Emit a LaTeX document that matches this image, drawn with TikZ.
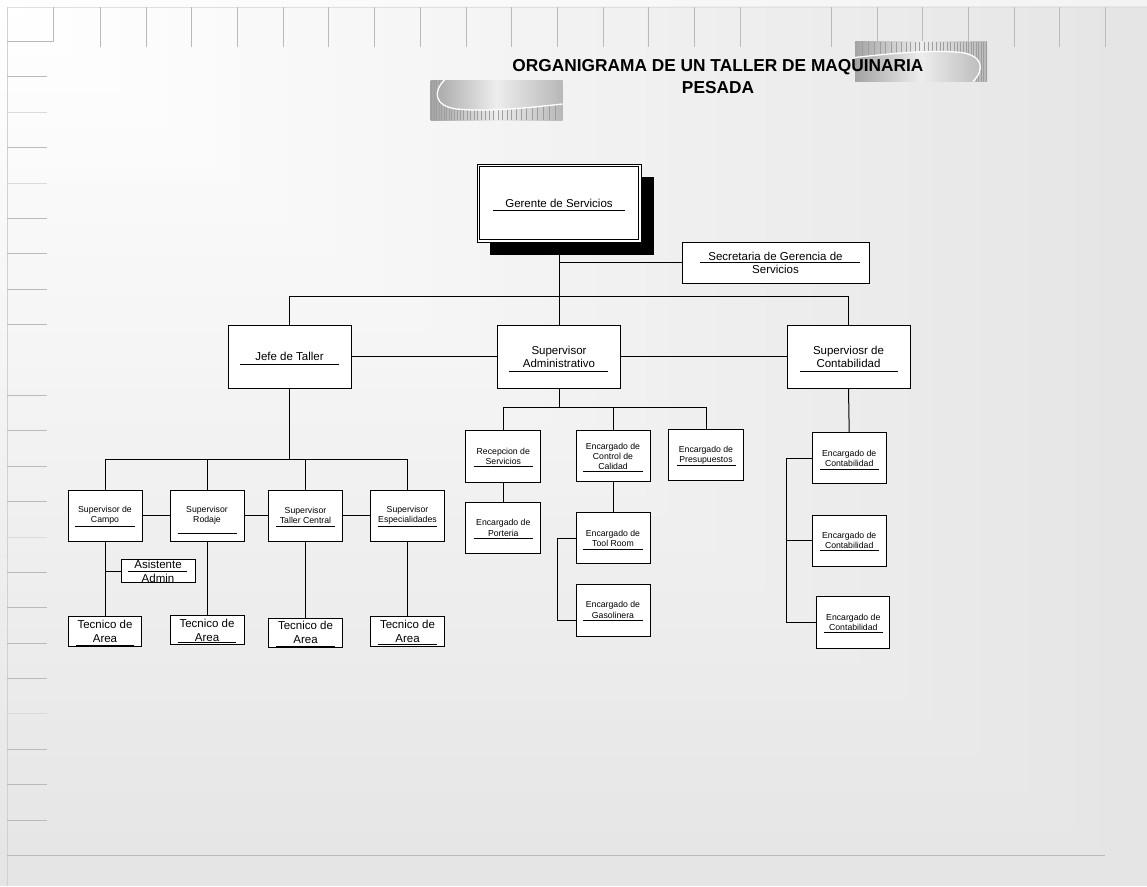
\documentclass[tikz,border=0pt]{standalone}
\usepackage{fontspec}
\setmainfont{Liberation Sans}
\usetikzlibrary{calc}
\pgfdeclarelayer{bg}
\pgfdeclarelayer{lines}
\pgfsetlayers{bg,lines,main}
\begin{document}
\begin{tikzpicture}[x=1pt,y=-1pt,
  box/.style={draw=black,fill=white,line width=1pt,inner sep=0pt,align=center},
  bigtxt/.style={font=\fontsize{11.5}{13}\selectfont},
  tectxt/.style={font=\fontsize{11.5}{14}\selectfont},
  smalltxt/.style={font=\fontsize{8.7}{10.3}\selectfont},
  conn/.style={draw=black,line width=1pt},
  ulin/.style={draw=black,line width=1pt},
  gtick/.style={draw=black!27,line width=1pt},
  ltick/.style={draw=black!14,line width=1pt},
  logo/.pic={
    \shade[left color=black!36, right color=black!28, middle color=black!7] (-66,-20) rectangle (66,20);
    \begin{scope}
      \clip (-66,20) -- (-66,-20) -- (-52,-20) .. controls (-64,-8) and (-62,6) .. (-40,9) .. controls (-10,12) and (30,8) .. (66,4) -- (66,20) -- cycle;
      \foreach \xx in {-65,-62.5,-60,-57.5,-55,-52.5,-50,-47.5,-45,-42,-39,-36,-33,-29.5,-26,-22.5,-19,-15,-11,-7,-3,1.5,6,10.5,15,20,25,30,35.5,41,47,53,59} \draw[black!38,line width=1pt] (\xx,-20) -- (\xx,20);
    \end{scope}
    \draw[white,line width=1.3pt] (-52,-20) .. controls (-64,-8) and (-62,6) .. (-40,9) .. controls (-10,12) and (30,8) .. (66,4);
  }]
\useasboundingbox (0,0) rectangle (1147,886);
% ---------- background ----------
\begin{pgfonlayer}{bg}
\foreach \i in {0,...,47}{
  \pgfmathsetmacro\vv{(229+26*\i/47)/255}
  \definecolor{bgc}{gray}{\vv}
  \pgfmathsetmacro\ff{1-\i/48}
  \fill[bgc] (0,0) rectangle ({1147*\ff},{886*\ff});
}
\fill[white,opacity=0.55] (0,0) rectangle (1147,6);
\draw[black!12,line width=1pt] (7,7) -- (1147,7);
\draw[black!18,line width=1pt] (7,7) -- (7,886);
\draw[gtick] (7,41) -- (53,41) -- (53,7);
\foreach \xx in {100,146,191,237,283,328,374,420,466,511,557,603,648,694,740,831,877,922,968,1014,1059,1105}
  \draw[gtick] (\xx,7) -- (\xx,47);
\foreach \yy in {76,147,218,253,289,324,395,430,466,501,572,607,643,678,749,784,820}
  \draw[gtick] (7,\yy) -- (47,\yy);
\foreach \yy in {112,183,537,713}
  \draw[ltick] (7,\yy) -- (47,\yy);
\draw[gtick] (7,855) -- (1105,855);
\pic at (496.5,100) {logo};
\pic[rotate=180] at (921,61.5) {logo};
\end{pgfonlayer}
% ---------- title ----------
\node[font=\bfseries\fontsize{17.3}{22}\selectfont, anchor=base, inner sep=0pt] (title1) at (718,71) {ORGANIGRAMA DE UN TALLER DE MAQUINARIA};
\node[font=\bfseries\fontsize{17.3}{22}\selectfont, anchor=base, inner sep=0pt] (title2) at (718,93) {PESADA};
% ---------- top level ----------
\fill[black] (490,177) rectangle (654,255);
\node[box,bigtxt,minimum width=164pt,minimum height=78pt] (ger) at (559,203) {Gerente de Servicios};
\draw[line width=1pt] ($(ger.north west)+(3,3)$) rectangle ($(ger.south east)+(-3,-3)$);
\node[box,bigtxt,minimum width=187pt,minimum height=41pt] (sec) at (775.5,262.5) {Secretaria de Gerencia de\\Servicios};
\coordinate (bus) at (559,296);
\node[box,bigtxt,minimum width=123pt,minimum height=63pt] (jefe) at (289.5,356.5) {Jefe de Taller};
\node[box,bigtxt,minimum width=123pt,minimum height=63pt] (adm) at (559,356.5) {Supervisor\\Administrativo};
\node[box,bigtxt,minimum width=123pt,minimum height=63pt] (con) at (848.5,356.5) {Superviosr de\\Contabilidad};
% ---------- left group ----------
\coordinate (lbus) at (289.5,459);
\node[box,smalltxt,minimum width=74pt,minimum height=51pt] (campo) at (105,515.5) {Supervisor de\\Campo};
\node[box,smalltxt,minimum width=74pt,minimum height=51pt] (rodaje) at (207,515.5) {Supervisor\\Rodaje};
\node[box,smalltxt,minimum width=74pt,minimum height=51pt] (tcentral) at (305.5,515.5) {Supervisor\\Taller Central};
\node[box,smalltxt,minimum width=74pt,minimum height=51pt] (espec) at (407.5,515.5) {Supervisor\\Especialidades};
\node[box,minimum width=74pt,minimum height=23.4pt] (asis) at (158,571) {};
\node[tectxt,align=center,inner sep=0pt] (asist) at (asis.center) {Asistente\\Admin};
\node[box,tectxt,minimum width=73.4pt,minimum height=30pt] (tec1) at (105,631.7) {Tecnico de\\Area};
\node[box,tectxt,minimum width=74pt,minimum height=28.3pt] (tec2) at (207,629.9) {Tecnico de\\Area};
\node[box,tectxt,minimum width=74.4pt,minimum height=29pt] (tec3) at (305.5,632.8) {Tecnico de\\Area};
\node[box,tectxt,minimum width=73.6pt,minimum height=29.3pt] (tec4) at (407.5,631.4) {Tecnico de\\Area};
% ---------- middle group ----------
\coordinate (mbus) at (559,407.3);
\node[box,smalltxt,minimum width=74.7pt,minimum height=51.6pt] (recep) at (503.3,456.5) {Recepcion de\\Servicios};
\node[box,smalltxt,minimum width=74pt,minimum height=51pt] (ctrl) at (613,456.2) {Encargado de\\Control de\\Calidad};
\node[box,smalltxt,minimum width=74.3pt,minimum height=51.4pt] (presup) at (706,455) {Encargado de\\Presupuestos};
\node[box,smalltxt,minimum width=74.7pt,minimum height=51pt] (port) at (503.3,527.8) {Encargado de\\Porteria};
\node[box,smalltxt,minimum width=74pt,minimum height=51.3pt] (tool) at (613,538.3) {Encargado de\\Tool Room};
\node[box,smalltxt,minimum width=74pt,minimum height=52pt] (gas) at (613,610) {Encargado de\\Gasolinera};
\coordinate (gasj) at (576,620);
% ---------- right group ----------
\node[box,smalltxt,minimum width=73.7pt,minimum height=51.3pt] (ec1) at (849.2,458.3) {Encargado de\\Contabilidad};
\node[box,smalltxt,minimum width=73.7pt,minimum height=51pt] (ec2) at (849.2,540.5) {Encargado de\\Contabilidad};
\node[box,smalltxt,minimum width=73.3pt,minimum height=51.6pt] (ec3) at (853.3,622.5) {Encargado de\\Contabilidad};
% ---------- connectors ----------
\begin{pgfonlayer}{lines}
\draw[conn] (ger.south) -- (bus);
\draw[conn] (ger.south |- sec.west) -- (sec.west);
\draw[conn] (jefe.north) -- (jefe.north |- bus) -- (con.north |- bus) -- (con.north);
\draw[conn] (bus) -- (adm.north);
\draw[conn] (jefe.east) -- (adm.west);
\draw[conn] (adm.east) -- (con.west);
\draw[conn] (jefe.south) -- (lbus);
\draw[conn] (campo.north) -- (campo.north |- lbus) -- (espec.north |- lbus) -- (espec.north);
\draw[conn] (rodaje.north) -- (rodaje.north |- lbus);
\draw[conn] (tcentral.north) -- (tcentral.north |- lbus);
\draw[conn] (campo.east) -- (rodaje.west);
\draw[conn] (rodaje.east) -- (tcentral.west);
\draw[conn] (tcentral.east) -- (espec.west);
\draw[conn] (campo.south) -- (tec1.north);
\draw[conn] (rodaje.south) -- (tec2.north);
\draw[conn] (tcentral.south) -- (tec3.north);
\draw[conn] (espec.south) -- (tec4.north);
\draw[conn] (campo.south |- asis.west) -- (asis.west);
\draw[conn] (adm.south) -- (mbus);
\draw[conn] (recep.north) -- (recep.north |- mbus) -- (presup.north |- mbus) -- (presup.north);
\draw[conn] (ctrl.north) -- (ctrl.north |- mbus);
\draw[conn] (recep.south) -- (port.north);
\draw[conn] (ctrl.south) -- (tool.north);
\draw[conn] (tool.west) -- ++(-17.7,0) |- (gasj);
\draw[conn] (con.south) -- (ec1.north);
\draw[conn] (ec1.west) -- ++(-25,0) |- (ec3.west);
\draw[conn] (ec2.west) -- ++(-25,0);
\end{pgfonlayer}
% ---------- underlines ----------
\draw[ulin] (493,210.5) -- (625,210.5);
\draw[ulin] (700,262.7) -- (860,262.7);
\draw[ulin] (240,364) -- (339,364);
\draw[ulin] (509,371) -- (608,371);
\draw[ulin] (800,371) -- (898,371);
\draw[ulin] (75,526.3) -- (135,526.3);
\draw[ulin] (178,533) -- (237,533);
\draw[ulin] (276,526) -- (335,526);
\draw[ulin] (378,526) -- (437,526);
\draw[ulin] (128,571) -- (187,571);
\draw[ulin] (76,645) -- (134,645);
\draw[ulin] (178,642.5) -- (236,642.5);
\draw[ulin] (276,646) -- (335,646);
\draw[ulin] (378,644.5) -- (437,644.5);
\draw[ulin] (474,466.7) -- (533,466.7);
\draw[ulin] (583,471.7) -- (643,471.7);
\draw[ulin] (677,465.7) -- (736,465.7);
\draw[ulin] (474,538.3) -- (533,538.3);
\draw[ulin] (583,549) -- (643,549);
\draw[ulin] (583,620) -- (643,620);
\draw[ulin] (820,469) -- (879,469);
\draw[ulin] (820,550) -- (879,550);
\draw[ulin] (824,632.7) -- (883,632.7);
\end{tikzpicture}
\end{document}
